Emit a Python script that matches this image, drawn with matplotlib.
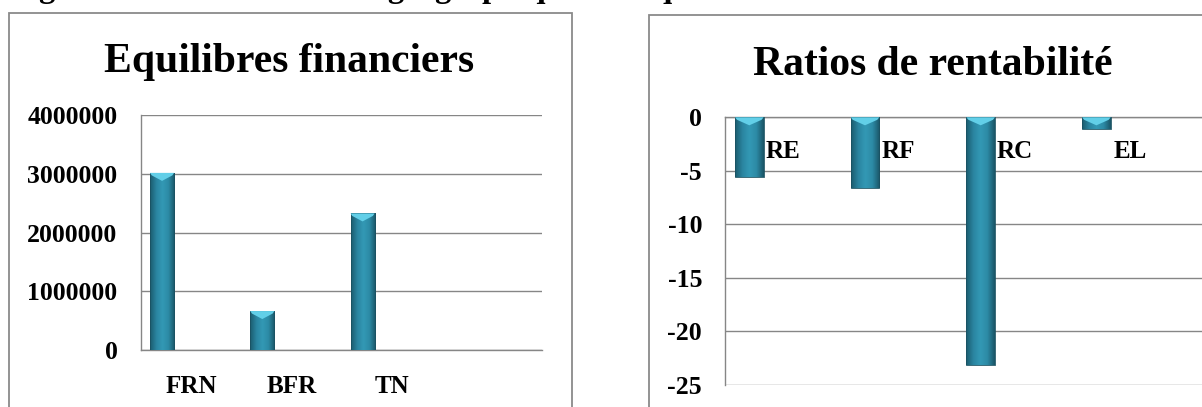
import matplotlib
matplotlib.use("Agg")
import matplotlib.pyplot as plt
import numpy as np
from matplotlib.patches import Rectangle, Polygon
from matplotlib.colors import LinearSegmentedColormap

# ---------------- data ----------------
page_caption = "Figure N°11 : Présentation géographique des équilibres et ratios de rentabilité"

left_title = "Equilibres financiers"
left_categories = ["FRN", "BFR", "TN"]
left_values = [3015000, 663000, 2325000]
left_yticks = [0, 1000000, 2000000, 3000000, 4000000]

right_title = "Ratios de rentabilité"
right_categories = ["RE", "RF", "RC", "EL"]
right_values = [-5.6, -6.6, -23.1, -1.1]
right_yticks = [0, -5, -10, -15, -20, -25]

# ---------------- style ----------------
W, H = 1202, 407
plt.rcParams['font.family'] = ['Liberation Serif', 'DejaVu Serif']
plt.rcParams['font.weight'] = 'bold'
GRID = '#868686'
BOX = '#8a8a8a'

fig = plt.figure(figsize=(W / 100, H / 100), dpi=100)


def axes_px(x0, y_top, x1, y_bottom):
    return fig.add_axes([x0 / W, 1 - y_bottom / H, (x1 - x0) / W, (y_bottom - y_top) / H])


bar_cmap = LinearSegmentedColormap.from_list(
    "bar", ["#1b5c6e", "#2a84a0", "#3399b5", "#2c8aa5", "#1a5567"])
grad = np.linspace(0, 1, 64).reshape(1, -1)


def style_bars(ax, bars, ax_height_px):
    y0, y1 = ax.get_ylim()
    dpp = (y1 - y0) / ax_height_px  # data units per pixel
    for b in bars:
        x0 = b.get_x()
        w = b.get_width()
        lo = min(b.get_y(), b.get_y() + b.get_height())
        hi = max(b.get_y(), b.get_y() + b.get_height())
        im = ax.imshow(grad, extent=[x0, x0 + w, lo, hi], aspect='auto',
                       cmap=bar_cmap, zorder=3, interpolation='bilinear')
        im.set_clip_path(b)
        b.set_facecolor('none')
        b.set_edgecolor('#1a5262')
        b.set_linewidth(0.6)
        b.set_zorder(4)
        xc = x0 + w / 2
        bev = Polygon([[x0, hi], [x0 + w, hi], [x0 + w * 0.93, hi - 2.5 * dpp],
                       [xc, hi - 8 * dpp], [x0 + w * 0.07, hi - 2.5 * dpp]],
                      closed=True, facecolor='#62cfe8', edgecolor='none', zorder=5)
        ax.add_patch(bev)
    ax.set_ylim(y0, y1)


def base_axes(ax, yticks, ylim, xlim, cats, label_pad, ytick_pad, xaxis_at_zero=False):
    for s in ['top', 'right']:
        ax.spines[s].set_visible(False)
    for s in ['left', 'bottom']:
        ax.spines[s].set_color(GRID)
        ax.spines[s].set_linewidth(1.0)
    if xaxis_at_zero:
        ax.spines['bottom'].set_position(('data', 0))
    ax.set_ylim(*ylim)
    ax.set_xlim(*xlim)
    ax.set_yticks(yticks)
    ax.set_yticklabels([str(t) for t in yticks], fontsize=18.5, fontweight='bold')
    ax.set_xticks(range(len(cats)))
    ax.set_xticklabels(cats, fontsize=18, fontweight='bold')
    ax.tick_params(axis='both', length=0, colors='black')
    ax.tick_params(axis='x', pad=label_pad)
    ax.tick_params(axis='y', pad=ytick_pad)
    ax.grid(axis='y', color=GRID, linewidth=1.0)
    ax.set_axisbelow(True)
    ax.patch.set_alpha(0)


# ---------------- frames ----------------
fig.patches.append(Rectangle((9 / W, -0.1), (572 - 9) / W, 1.1 - 12.7 / H,
                             transform=fig.transFigure, fill=False,
                             edgecolor=BOX, linewidth=1.3))
fig.patches.append(Rectangle((649 / W, -0.1), (1240 - 649) / W, 1.1 - 15 / H,
                             transform=fig.transFigure, fill=False,
                             edgecolor=BOX, linewidth=1.3))

# ---------------- left chart ----------------
axL = axes_px(141, 115, 542, 350)
base_axes(axL, left_yticks, (0, 4000000), (-0.5, 3.5), left_categories,
          label_pad=18, ytick_pad=17)
barsL = axL.bar(np.arange(len(left_values)) - 0.29, left_values, width=0.24)
style_bars(axL, barsL, 235)

fig.text(289 / W, 1 - 72 / H, left_title, ha='center', va='baseline',
         fontsize=30, fontweight='bold')

# ---------------- right chart ----------------
axR = axes_px(725, 117.3, 725 + 5 * 115.7, 385)
base_axes(axR, right_yticks, (-25, 0), (-0.5, 4.5), right_categories,
          label_pad=16, ytick_pad=16.5, xaxis_at_zero=True)
barsR = axR.bar(np.arange(len(right_values)) - 0.29, right_values, width=0.247)
style_bars(axR, barsR, 385 - 117.3)

fig.text(933 / W, 1 - 75 / H, right_title, ha='center', va='baseline',
         fontsize=30, fontweight='bold')

# ---------------- clipped page caption (only its lower edge shows) ----------------
cap = fig.text(10 / W, 1 + 3 / H, page_caption, ha='left', va='baseline',
               fontsize=20, fontweight='bold')
fig.canvas.draw()
wpx = cap.get_window_extent().width
cap.set_fontsize(20 * 1080 / wpx)

fig.savefig("out.png", dpi=100)
